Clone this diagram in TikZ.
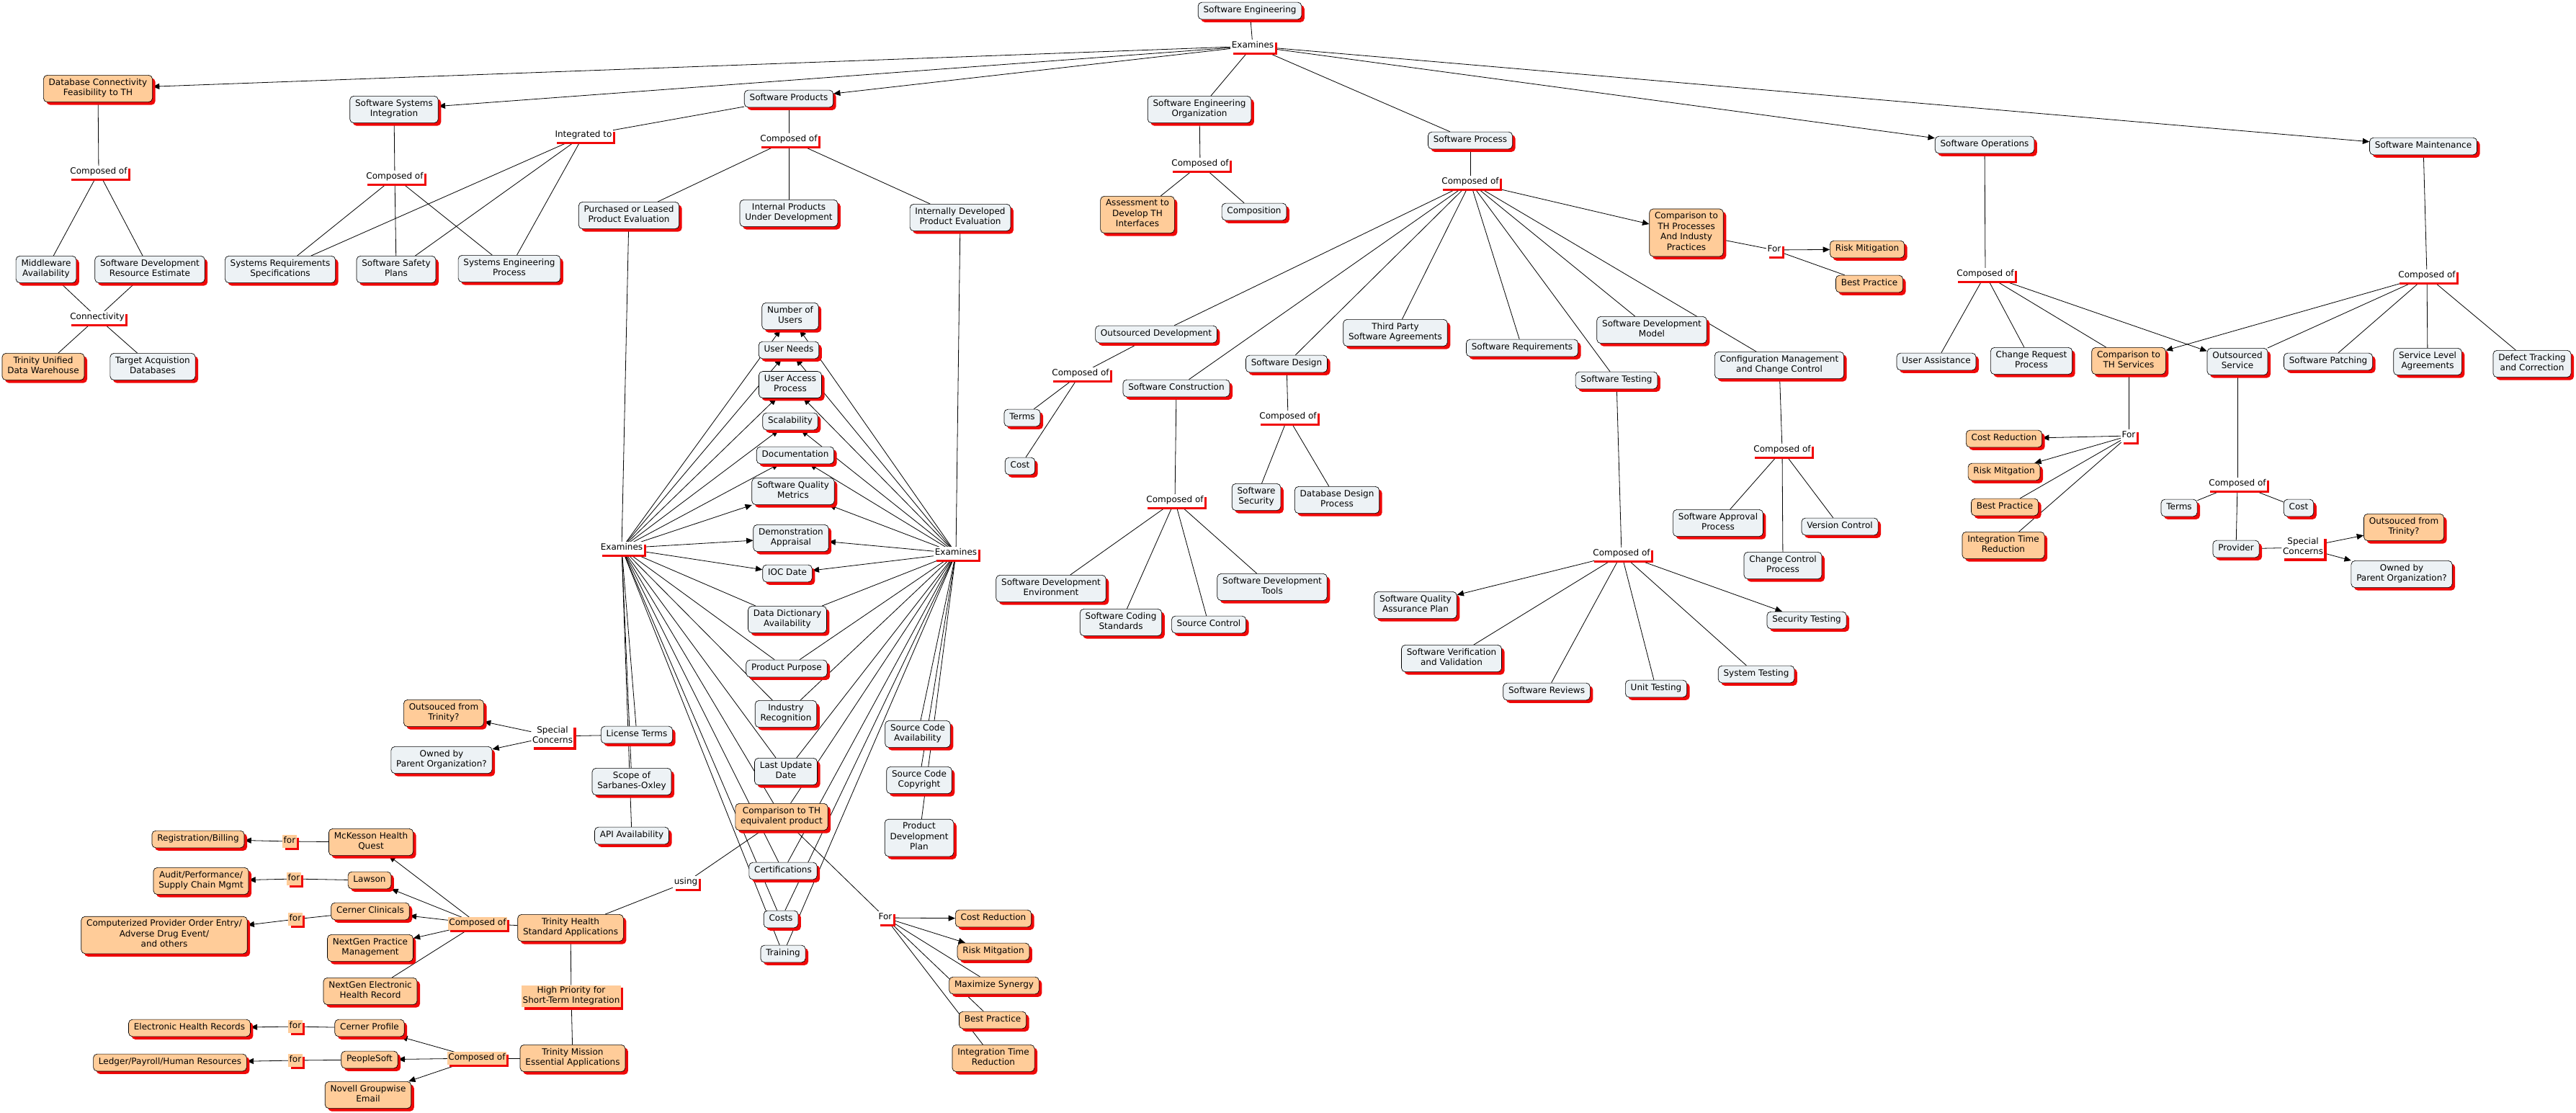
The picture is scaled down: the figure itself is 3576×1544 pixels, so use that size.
\documentclass[tikz,border=0pt]{standalone}
\usepackage{fontspec}
\setmainfont{DejaVu Sans}
\usetikzlibrary{arrows.meta,shadows}
\definecolor{boxgrey}{RGB}{237,242,245}
\definecolor{peach}{RGB}{255,204,153}
\definecolor{shadowred}{RGB}{240,8,8}
\pgfdeclarelayer{bg}
\pgfsetlayers{bg,main}

\begin{document}
\begin{tikzpicture}[x=0.0263cm,y=-0.0263cm,
  every node/.style={font=\fontsize{9}{10.8}\selectfont},
  concept/.style={draw,line width=0.5pt,rounded corners=4pt,fill=boxgrey,align=center,
    inner xsep=5.5pt,inner ysep=3.5pt,execute at begin node=\strut,execute at end node=\strut,
    drop shadow={shadow xshift=3pt,shadow yshift=-3pt,fill=shadowred,opacity=1}},
  hot/.style={concept,fill=peach},
  phrase/.style={fill=white,inner sep=1pt,align=center,execute at begin node=\strut,
    drop shadow={shadow xshift=2.5pt,shadow yshift=-2.5pt,fill=shadowred,opacity=1}},
  hotphrase/.style={phrase,fill=peach},
  conn/.style={draw,line width=0.6pt},
  arr/.style={conn,-{Triangle[length=7pt,width=6pt]}}]
\useasboundingbox (0,0) rectangle (3576,1544);

% top level
\node[concept] (se) at (1735,15) {Software Engineering};
\node[phrase] (ex1) at (1739,64) {Examines};
\node[hot] (dbc) at (136,123) {Database Connectivity\\Feasibility to TH};
\node[phrase] (comp1) at (137,239) {Composed of};
\node[concept] (mw) at (64,374) {Middleware\\Availability};
\node[concept] (sdre) at (208,374) {Software Development\\Resource Estimate};
\node[phrase] (conn) at (135,441) {Connectivity};
\node[hot] (tudw) at (60,509) {Trinity Unified\\Data Warehouse};
\node[concept] (tad) at (212,509) {Target Acquistion\\Databases};

\node[concept] (ssi) at (547,152) {Software Systems\\Integration};
\node[phrase] (comp2) at (548,246) {Composed of};
\node[concept] (srs) at (389,374) {Systems Requirements\\Specifications};
\node[concept] (ssp) at (550,374) {Software Safety\\Plans};
\node[concept] (sep) at (707,373) {Systems Engineering\\Process};
\node[phrase] (intg) at (810,188) {Integrated to};

\node[concept] (sp) at (1095,137) {Software Products};
\node[phrase] (comp3) at (1095,194) {Composed of};
\node[concept] (ple) at (873,299) {Purchased or Leased\\Product Evaluation};
\node[concept] (ipud) at (1095,296) {Internal Products\\Under Development};
\node[concept] (idpe) at (1333,302) {Internally Developed\\Product Evaluation};

\node[concept] (seo) at (1665,152) {Software Engineering\\Organization};
\node[phrase] (comp4) at (1666,228) {Composed of};
\node[hot] (adth) at (1579,298) {Assessment to\\Develop TH\\Interfaces};
\node[concept] (compo) at (1741,294) {Composition};

% software process
\node[concept] (spr) at (2041,195) {Software Process};
\node[phrase] (comp5) at (2041,253) {Composed of};
\node[hot] (cthp) at (2341,323) {Comparison to\\TH Processes\\And Industy\\Practices};
\node[phrase] (for1) at (2463,347) {For};
\node[hot] (rm1) at (2592,346) {Risk Mitigation};
\node[hot] (bp1) at (2595,394) {Best Practice};
\node[concept] (od) at (1605,464) {Outsourced Development};
\node[phrase] (comp6) at (1500,519) {Composed of};
\node[concept] (terms1) at (1419,580) {Terms};
\node[concept] (cost1) at (1416,647) {Cost};
\node[concept] (sc) at (1633,539) {Software Construction};
\node[phrase] (comp7) at (1631,695) {Composed of};
\node[concept] (sdenv) at (1459,817) {Software Development\\Environment};
\node[concept] (scs) at (1556,864) {Software Coding\\Standards};
\node[concept] (srcc) at (1678,867) {Source Control};
\node[concept] (sdt) at (1766,815) {Software Development\\Tools};
\node[concept] (sd) at (1786,505) {Software Design};
\node[phrase] (comp8) at (1788,579) {Composed of};
\node[concept] (ssec) at (1744,690) {Software\\Security};
\node[concept] (ddp) at (1856,694) {Database Design\\Process};
\node[concept] (tpsa) at (1937,462) {Third Party\\Software Agreements};
\node[concept] (sreq) at (2113,483) {Software Requirements};
\node[concept] (sdm) at (2293,458) {Software Development\\Model};
\node[concept] (st) at (2244,528) {Software Testing};
\node[concept] (cmcc) at (2470,507) {Configuration Management\\and Change Control};
\node[phrase] (comp9) at (2251,769) {Composed of};
\node[concept] (sqap) at (1965,840) {Software Quality\\Assurance Plan};
\node[concept] (svv) at (2015,914) {Software Verification\\and Validation};
\node[concept] (srev) at (2147,960) {Software Reviews};
\node[concept] (ut) at (2299,956) {Unit Testing};
\node[concept] (syst) at (2438,936) {System Testing};
\node[concept] (sect) at (2508,861) {Security Testing};
\node[phrase] (comp10) at (2474,625) {Composed of};
\node[concept] (sap) at (2385,726) {Software Approval\\Process};
\node[concept] (vc) at (2554,731) {Version Control};
\node[concept] (ccp) at (2475,785) {Change Control\\Process};

% operations and maintenance
\node[concept] (sops) at (2755,201) {Software Operations};
\node[concept] (smt) at (3364,203) {Software Maintenance};
\node[phrase] (comp11) at (2756,381) {Composed of};
\node[phrase] (comp12) at (3369,383) {Composed of};
\node[concept] (ua) at (2688,502) {User Assistance};
\node[concept] (crp) at (2820,501) {Change Request\\Process};
\node[hot] (cths) at (2955,501) {Comparison to\\TH Services};
\node[concept] (os) at (3106,502) {Outsourced\\Service};
\node[concept] (spat) at (3232,502) {Software Patching};
\node[concept] (sla) at (3370,502) {Service Level\\Agreements};
\node[concept] (dtc) at (3515,505) {Defect Tracking\\and Correction};
\node[phrase] (for2) at (2955,605) {For};
\node[hot] (cr2) at (2782,609) {Cost Reduction};
\node[hot] (rm2) at (2782,655) {Risk Mitgation};
\node[hot] (bp2) at (2783,704) {Best Practice};
\node[hot] (itr2) at (2781,757) {Integration Time\\Reduction};
\node[phrase] (comp13) at (3106,672) {Composed of};
\node[concept] (terms2) at (3025,705) {Terms};
\node[concept] (cost2) at (3191,705) {Cost};
\node[concept] (prov) at (3104,762) {Provider};
\node[phrase] (spc2) at (3197,760) {Special\\Concerns};
\node[hot] (oft2) at (3337,732) {Outsouced from\\Trinity?};
\node[concept] (opo2) at (3334,797) {Owned by\\Parent Organization?};

% product evaluation
\node[phrase] (ex2) at (863,761) {Examines};
\node[phrase] (ex3) at (1327,768) {Examines};
\node[concept] (nou) at (1097,439) {Number of\\Users};
\node[concept] (un) at (1095,486) {User Needs};
\node[concept] (uap) at (1097,534) {User Access\\Process};
\node[concept] (scal) at (1097,585) {Scalability};
\node[concept] (doc) at (1104,632) {Documentation};
\node[concept] (sqm) at (1101,682) {Software Quality\\Metrics};
\node[concept] (da) at (1098,747) {Demonstration\\Appraisal};
\node[concept] (ioc) at (1093,796) {IOC Date};
\node[concept] (dda) at (1093,860) {Data Dictionary\\Availability};
\node[concept] (pp) at (1092,928) {Product Purpose};
\node[concept] (ir) at (1091,991) {Industry\\Recognition};
\node[concept] (lud) at (1091,1071) {Last Update\\Date};
\node[hot] (cthe) at (1085,1134) {Comparison to TH\\equivalent product};
\node[concept] (cert) at (1087,1209) {Certifications};
\node[concept] (costs) at (1084,1276) {Costs};
\node[concept] (train) at (1087,1324) {Training};
\node[concept] (lt) at (884,1020) {License Terms};
\node[phrase] (spc1) at (767,1022) {Special\\Concerns};
\node[hot] (oft1) at (616,990) {Outsouced from\\Trinity?};
\node[concept] (opo1) at (613,1055) {Owned by\\Parent Organization?};
\node[concept] (sox) at (877,1085) {Scope of\\Sarbanes-Oxley};
\node[concept] (api) at (877,1160) {API Availability};
\node[concept] (sca) at (1274,1019) {Source Code\\Availability};
\node[concept] (scc) at (1276,1083) {Source Code\\Copyright};
\node[concept] (pdp) at (1276,1163) {Product\\Development\\Plan};
\node[phrase] (using) at (952,1225) {using};
\node[phrase] (for3) at (1229,1274) {For};
\node[hot] (cr3) at (1379,1275) {Cost Reduction};
\node[hot] (rm3) at (1379,1321) {Risk Mitgation};
\node[hot] (ms3) at (1380,1368) {Maximize Synergy};
\node[hot] (bp3) at (1378,1416) {Best Practice};
\node[hot] (itr3) at (1379,1469) {Integration Time\\Reduction};

% trinity applications
\node[hot] (tha) at (792,1288) {Trinity Health\\Standard Applications};
\node[hotphrase] (comp14) at (663,1282) {Composed of};
\node[hot] (mhq) at (515,1169) {McKesson Health\\Quest};
\node[hot] (law) at (513,1222) {Lawson};
\node[hot] (cc) at (514,1265) {Cerner Clinicals};
\node[hot] (ngpm) at (514,1316) {NextGen Practice\\Management};
\node[hot] (ngehr) at (514,1376) {NextGen Electronic\\Health Record};
\node[hotphrase] (for4) at (402,1168) {for};
\node[hot] (rb) at (275,1165) {Registration/Billing};
\node[hotphrase] (for5) at (408,1220) {for};
\node[hot] (apsc) at (279,1223) {Audit/Performance/\\Supply Chain Mgmt};
\node[hotphrase] (for6) at (410,1276) {for};
\node[hot] (cpoe) at (228,1298) {Computerized Provider Order Entry/\\Adverse Drug Event/\\and others};
\node[hotphrase] (hpst) at (793,1383) {High Priority for\\Short-Term Integration};
\node[hot] (tmea) at (795,1469) {Trinity Mission\\Essential Applications};
\node[hotphrase] (comp15) at (662,1469) {Composed of};
\node[hot] (cp) at (513,1427) {Cerner Profile};
\node[hot] (ps) at (513,1471) {PeopleSoft};
\node[hot] (nge) at (511,1520) {Novell Groupwise\\Email};
\node[hotphrase] (for7) at (410,1425) {for};
\node[hot] (ehr) at (263,1427) {Electronic Health Records};
\node[hotphrase] (for8) at (410,1472) {for};
\node[hot] (lphr) at (236,1475) {Ledger/Payroll/Human Resources};

\begin{pgfonlayer}{bg}
\foreach \a/\b in {se/ex1,ex1/seo,ex1/spr,dbc/comp1,comp1/mw,comp1/sdre,mw/conn,sdre/conn,conn/tudw,conn/tad,
  ssi/comp2,comp2/srs,comp2/ssp,comp2/sep,sp/intg,intg/srs,intg/ssp,intg/sep,sp/comp3,comp3/ple,comp3/ipud,comp3/idpe,
  seo/comp4,comp4/adth,comp4/compo,spr/comp5,comp5/od,comp5/sc,comp5/sd,comp5/tpsa,comp5/sreq,comp5/st,comp5/sdm,comp5/cmcc,
  cthp/for1,for1/bp1,od/comp6,comp6/terms1,comp6/cost1,sc/comp7,comp7/sdenv,comp7/scs,comp7/srcc,comp7/sdt,
  sd/comp8,comp8/ssec,comp8/ddp,st/comp9,comp9/svv,comp9/srev,comp9/ut,comp9/syst,cmcc/comp10,comp10/sap,comp10/vc,comp10/ccp,
  sops/comp11,comp11/ua,comp11/crp,comp11/cths,smt/comp12,comp12/os,comp12/spat,comp12/sla,comp12/dtc,
  cths/for2,for2/bp2,for2/itr2,os/comp13,comp13/terms2,comp13/cost2,comp13/prov,prov/spc2,
  ple/ex2,idpe/ex3,ex2/lt,ex2/sox,ex2/api,ex3/sca,ex3/scc,ex3/pdp,lt/spc1,cthe/using,using/tha,cthe/for3,
  for3/ms3,for3/bp3,for3/itr3,tha/comp14,comp14/ngehr,mhq/for4,law/for5,cc/for6,tha/hpst,hpst/tmea,tmea/comp15,cp/for7,ps/for8}
  \draw[conn] (\a) -- (\b);
\foreach \a/\b in {ex1/dbc,ex1/ssi,ex1/sp,ex1/sops,ex1/smt,comp5/cthp,for1/rm1,comp9/sqap,comp9/sect,comp11/os,comp12/cths,
  for2/cr2,for2/rm2,spc2/oft2,spc2/opo2,spc1/oft1,spc1/opo1,for3/cr3,for3/rm3,comp14/mhq,comp14/law,comp14/cc,comp14/ngpm,
  for4/rb,for5/apsc,for6/cpoe,comp15/cp,comp15/ps,comp15/nge,for7/ehr,for8/lphr}
  \draw[arr] (\a) -- (\b);
\foreach \s in {ex2,ex3} {
  \foreach \t in {nou,un,uap,scal,doc,sqm,da,ioc} \draw[arr] (\s) -- (\t);
  \foreach \t in {dda,pp,ir,lud,cthe,cert,costs,train} \draw[conn] (\s) -- (\t);
}
\end{pgfonlayer}
\end{tikzpicture}
\end{document}
